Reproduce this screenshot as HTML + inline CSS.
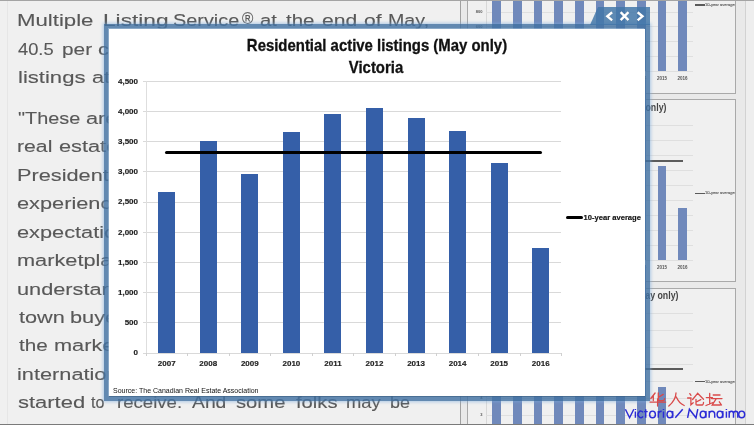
<!DOCTYPE html><html><head><meta charset="utf-8"><style>
html,body{margin:0;padding:0;width:754px;height:425px;overflow:hidden;background:#f0f0f0;font-family:"Liberation Sans", sans-serif}
.ab{position:absolute}
#wrap{position:absolute;left:0;top:0;width:754px;height:425px;overflow:hidden;filter:blur(0.45px)}
</style></head><body><div id="wrap">
<div class="ab" style="left:7.00px;top:0.00px;width:1.00px;height:425.00px;background:#e6e6e6;"></div>
<div class="ab" style="left:17.22px;top:12.07px;font-size:17.40px;line-height:17.40px;font-weight:normal;color:#585858;white-space:nowrap;letter-spacing:0.00px;transform:scaleX(1.276);transform-origin:0 0;-webkit-text-stroke:0.12px #5a5a5a">Multiple</div>
<div class="ab" style="left:102.50px;top:12.07px;font-size:17.40px;line-height:17.40px;font-weight:normal;color:#585858;white-space:nowrap;letter-spacing:0.00px;transform:scaleX(1.304);transform-origin:0 0;-webkit-text-stroke:0.12px #5a5a5a">Listing</div>
<div class="ab" style="left:172.96px;top:12.07px;font-size:17.40px;line-height:17.40px;font-weight:normal;color:#585858;white-space:nowrap;letter-spacing:0.00px;transform:scaleX(1.143);transform-origin:0 0;-webkit-text-stroke:0.12px #5a5a5a">Service</div>
<div class="ab" style="left:241.50px;top:10.47px;font-size:17.40px;line-height:17.40px;font-weight:normal;color:#585858;white-space:nowrap;letter-spacing:0.00px;transform:scaleX(0.885);transform-origin:0 0;-webkit-text-stroke:0.12px #5a5a5a">®</div>
<div class="ab" style="left:260.34px;top:12.07px;font-size:17.40px;line-height:17.40px;font-weight:normal;color:#585858;white-space:nowrap;letter-spacing:0.00px;transform:scaleX(1.164);transform-origin:0 0;-webkit-text-stroke:0.12px #5a5a5a">at</div>
<div class="ab" style="left:286.30px;top:12.07px;font-size:17.40px;line-height:17.40px;font-weight:normal;color:#585858;white-space:nowrap;letter-spacing:0.00px;transform:scaleX(1.179);transform-origin:0 0;-webkit-text-stroke:0.12px #5a5a5a">the</div>
<div class="ab" style="left:322.29px;top:12.07px;font-size:17.40px;line-height:17.40px;font-weight:normal;color:#585858;white-space:nowrap;letter-spacing:0.00px;transform:scaleX(1.215);transform-origin:0 0;-webkit-text-stroke:0.12px #5a5a5a">end</div>
<div class="ab" style="left:363.99px;top:12.07px;font-size:17.40px;line-height:17.40px;font-weight:normal;color:#585858;white-space:nowrap;letter-spacing:0.00px;transform:scaleX(1.214);transform-origin:0 0;-webkit-text-stroke:0.12px #5a5a5a">of</div>
<div class="ab" style="left:387.77px;top:12.07px;font-size:17.40px;line-height:17.40px;font-weight:normal;color:#585858;white-space:nowrap;letter-spacing:0.00px;transform:scaleX(1.129);transform-origin:0 0;-webkit-text-stroke:0.12px #5a5a5a">May,</div>
<div class="ab" style="left:18.00px;top:40.57px;font-size:17.40px;line-height:17.40px;font-weight:normal;color:#585858;white-space:nowrap;letter-spacing:0.00px;transform:scaleX(1.053);transform-origin:0 0;-webkit-text-stroke:0.12px #5a5a5a">40.5</div>
<div class="ab" style="left:62.00px;top:40.57px;font-size:17.40px;line-height:17.40px;font-weight:normal;color:#585858;white-space:nowrap;letter-spacing:0.00px;transform:scaleX(1.196);transform-origin:0 0;-webkit-text-stroke:0.12px #5a5a5a">per</div>
<div class="ab" style="left:98.15px;top:40.57px;font-size:17.40px;line-height:17.40px;font-weight:normal;color:#585858;white-space:nowrap;letter-spacing:0.00px;transform:scaleX(1.250);transform-origin:0 0;-webkit-text-stroke:0.12px #5a5a5a">cent</div>
<div class="ab" style="left:146.90px;top:40.57px;font-size:17.40px;line-height:17.40px;font-weight:normal;color:#585858;white-space:nowrap;letter-spacing:0.00px;transform:scaleX(1.250);transform-origin:0 0;-webkit-text-stroke:0.12px #5a5a5a">from</div>
<div class="ab" style="left:196.90px;top:40.57px;font-size:17.40px;line-height:17.40px;font-weight:normal;color:#585858;white-space:nowrap;letter-spacing:0.00px;transform:scaleX(1.250);transform-origin:0 0;-webkit-text-stroke:0.12px #5a5a5a">the</div>
<div class="ab" style="left:233.15px;top:40.57px;font-size:17.40px;line-height:17.40px;font-weight:normal;color:#585858;white-space:nowrap;letter-spacing:0.00px;transform:scaleX(1.250);transform-origin:0 0;-webkit-text-stroke:0.12px #5a5a5a">same</div>
<div class="ab" style="left:293.15px;top:40.57px;font-size:17.40px;line-height:17.40px;font-weight:normal;color:#585858;white-space:nowrap;letter-spacing:0.00px;transform:scaleX(1.250);transform-origin:0 0;-webkit-text-stroke:0.12px #5a5a5a">time</div>
<div class="ab" style="left:339.40px;top:40.57px;font-size:17.40px;line-height:17.40px;font-weight:normal;color:#585858;white-space:nowrap;letter-spacing:0.00px;transform:scaleX(1.250);transform-origin:0 0;-webkit-text-stroke:0.12px #5a5a5a">last</div>
<div class="ab" style="left:380.65px;top:40.57px;font-size:17.40px;line-height:17.40px;font-weight:normal;color:#585858;white-space:nowrap;letter-spacing:0.00px;transform:scaleX(1.250);transform-origin:0 0;-webkit-text-stroke:0.12px #5a5a5a">year</div>
<div class="ab" style="left:429.40px;top:40.57px;font-size:17.40px;line-height:17.40px;font-weight:normal;color:#585858;white-space:nowrap;letter-spacing:0.00px;transform:scaleX(1.250);transform-origin:0 0;-webkit-text-stroke:0.12px #5a5a5a">and</div>
<div class="ab" style="left:470.65px;top:40.57px;font-size:17.40px;line-height:17.40px;font-weight:normal;color:#585858;white-space:nowrap;letter-spacing:0.00px;transform:scaleX(1.250);transform-origin:0 0;-webkit-text-stroke:0.12px #5a5a5a">new</div>
<div class="ab" style="left:18.23px;top:69.07px;font-size:17.40px;line-height:17.40px;font-weight:normal;color:#585858;white-space:nowrap;letter-spacing:0.00px;transform:scaleX(1.269);transform-origin:0 0;-webkit-text-stroke:0.12px #5a5a5a">listings</div>
<div class="ab" style="left:91.75px;top:69.07px;font-size:17.40px;line-height:17.40px;font-weight:normal;color:#585858;white-space:nowrap;letter-spacing:0.00px;transform:scaleX(1.250);transform-origin:0 0;-webkit-text-stroke:0.12px #5a5a5a">at</div>
<div class="ab" style="left:118.00px;top:69.07px;font-size:17.40px;line-height:17.40px;font-weight:normal;color:#585858;white-space:nowrap;letter-spacing:0.00px;transform:scaleX(1.250);transform-origin:0 0;-webkit-text-stroke:0.12px #5a5a5a">the</div>
<div class="ab" style="left:154.25px;top:69.07px;font-size:17.40px;line-height:17.40px;font-weight:normal;color:#585858;white-space:nowrap;letter-spacing:0.00px;transform:scaleX(1.250);transform-origin:0 0;-webkit-text-stroke:0.12px #5a5a5a">end</div>
<div class="ab" style="left:195.50px;top:69.07px;font-size:17.40px;line-height:17.40px;font-weight:normal;color:#585858;white-space:nowrap;letter-spacing:0.00px;transform:scaleX(1.250);transform-origin:0 0;-webkit-text-stroke:0.12px #5a5a5a">of</div>
<div class="ab" style="left:220.50px;top:69.07px;font-size:17.40px;line-height:17.40px;font-weight:normal;color:#585858;white-space:nowrap;letter-spacing:0.00px;transform:scaleX(1.250);transform-origin:0 0;-webkit-text-stroke:0.12px #5a5a5a">May</div>
<div class="ab" style="left:269.25px;top:69.07px;font-size:17.40px;line-height:17.40px;font-weight:normal;color:#585858;white-space:nowrap;letter-spacing:0.00px;transform:scaleX(1.250);transform-origin:0 0;-webkit-text-stroke:0.12px #5a5a5a">were</div>
<div class="ab" style="left:17.56px;top:109.57px;font-size:17.40px;line-height:17.40px;font-weight:normal;color:#585858;white-space:nowrap;letter-spacing:0.00px;transform:scaleX(1.142);transform-origin:0 0;-webkit-text-stroke:0.12px #5a5a5a">"These</div>
<div class="ab" style="left:85.95px;top:109.57px;font-size:17.40px;line-height:17.40px;font-weight:normal;color:#585858;white-space:nowrap;letter-spacing:0.00px;transform:scaleX(1.250);transform-origin:0 0;-webkit-text-stroke:0.12px #5a5a5a">are</div>
<div class="ab" style="left:124.70px;top:109.57px;font-size:17.40px;line-height:17.40px;font-weight:normal;color:#585858;white-space:nowrap;letter-spacing:0.00px;transform:scaleX(1.250);transform-origin:0 0;-webkit-text-stroke:0.12px #5a5a5a">tough</div>
<div class="ab" style="left:185.95px;top:109.57px;font-size:17.40px;line-height:17.40px;font-weight:normal;color:#585858;white-space:nowrap;letter-spacing:0.00px;transform:scaleX(1.250);transform-origin:0 0;-webkit-text-stroke:0.12px #5a5a5a">times</div>
<div class="ab" style="left:244.70px;top:109.57px;font-size:17.40px;line-height:17.40px;font-weight:normal;color:#585858;white-space:nowrap;letter-spacing:0.00px;transform:scaleX(1.250);transform-origin:0 0;-webkit-text-stroke:0.12px #5a5a5a">for</div>
<div class="ab" style="left:17.48px;top:138.06px;font-size:17.40px;line-height:17.40px;font-weight:normal;color:#585858;white-space:nowrap;letter-spacing:0.00px;transform:scaleX(1.219);transform-origin:0 0;-webkit-text-stroke:0.12px #5a5a5a">real</div>
<div class="ab" style="left:59.15px;top:138.06px;font-size:17.40px;line-height:17.40px;font-weight:normal;color:#585858;white-space:nowrap;letter-spacing:0.00px;transform:scaleX(1.250);transform-origin:0 0;-webkit-text-stroke:0.12px #5a5a5a">estate</div>
<div class="ab" style="left:124.15px;top:138.06px;font-size:17.40px;line-height:17.40px;font-weight:normal;color:#585858;white-space:nowrap;letter-spacing:0.00px;transform:scaleX(1.250);transform-origin:0 0;-webkit-text-stroke:0.12px #5a5a5a">agents</div>
<div class="ab" style="left:17.45px;top:166.55px;font-size:17.40px;line-height:17.40px;font-weight:normal;color:#585858;white-space:nowrap;letter-spacing:0.00px;transform:scaleX(1.250);transform-origin:0 0;-webkit-text-stroke:0.12px #5a5a5a">President</div>
<div class="ab" style="left:116.20px;top:166.55px;font-size:17.40px;line-height:17.40px;font-weight:normal;color:#585858;white-space:nowrap;letter-spacing:0.00px;transform:scaleX(1.250);transform-origin:0 0;-webkit-text-stroke:0.12px #5a5a5a">of</div>
<div class="ab" style="left:17.45px;top:195.04px;font-size:17.40px;line-height:17.40px;font-weight:normal;color:#585858;white-space:nowrap;letter-spacing:0.00px;transform:scaleX(1.250);transform-origin:0 0;-webkit-text-stroke:0.12px #5a5a5a">experiencing</div>
<div class="ab" style="left:17.45px;top:223.53px;font-size:17.40px;line-height:17.40px;font-weight:normal;color:#585858;white-space:nowrap;letter-spacing:0.00px;transform:scaleX(1.250);transform-origin:0 0;-webkit-text-stroke:0.12px #5a5a5a">expectations</div>
<div class="ab" style="left:17.45px;top:252.02px;font-size:17.40px;line-height:17.40px;font-weight:normal;color:#585858;white-space:nowrap;letter-spacing:0.00px;transform:scaleX(1.250);transform-origin:0 0;-webkit-text-stroke:0.12px #5a5a5a">marketplace</div>
<div class="ab" style="left:17.45px;top:280.51px;font-size:17.40px;line-height:17.40px;font-weight:normal;color:#585858;white-space:nowrap;letter-spacing:0.00px;transform:scaleX(1.250);transform-origin:0 0;-webkit-text-stroke:0.12px #5a5a5a">understand</div>
<div class="ab" style="left:18.70px;top:309.00px;font-size:17.40px;line-height:17.40px;font-weight:normal;color:#585858;white-space:nowrap;letter-spacing:0.00px;transform:scaleX(1.247);transform-origin:0 0;-webkit-text-stroke:0.12px #5a5a5a">town</div>
<div class="ab" style="left:70.45px;top:309.00px;font-size:17.40px;line-height:17.40px;font-weight:normal;color:#585858;white-space:nowrap;letter-spacing:0.00px;transform:scaleX(1.250);transform-origin:0 0;-webkit-text-stroke:0.12px #5a5a5a">buyers</div>
<div class="ab" style="left:18.90px;top:337.49px;font-size:17.40px;line-height:17.40px;font-weight:normal;color:#585858;white-space:nowrap;letter-spacing:0.00px;transform:scaleX(1.188);transform-origin:0 0;-webkit-text-stroke:0.12px #5a5a5a">the</div>
<div class="ab" style="left:54.25px;top:337.49px;font-size:17.40px;line-height:17.40px;font-weight:normal;color:#585858;white-space:nowrap;letter-spacing:0.00px;transform:scaleX(1.250);transform-origin:0 0;-webkit-text-stroke:0.12px #5a5a5a">market</div>
<div class="ab" style="left:17.45px;top:365.98px;font-size:17.40px;line-height:17.40px;font-weight:normal;color:#585858;white-space:nowrap;letter-spacing:0.00px;transform:scaleX(1.250);transform-origin:0 0;-webkit-text-stroke:0.12px #5a5a5a">international</div>
<div class="ab" style="left:17.64px;top:394.47px;font-size:17.40px;line-height:17.40px;font-weight:normal;color:#585858;white-space:nowrap;letter-spacing:0.00px;transform:scaleX(1.263);transform-origin:0 0;-webkit-text-stroke:0.12px #5a5a5a">started</div>
<div class="ab" style="left:91.30px;top:394.47px;font-size:17.40px;line-height:17.40px;font-weight:normal;color:#585858;white-space:nowrap;letter-spacing:0.00px;transform:scaleX(0.921);transform-origin:0 0;-webkit-text-stroke:0.12px #5a5a5a">to</div>
<div class="ab" style="left:116.63px;top:394.47px;font-size:17.40px;line-height:17.40px;font-weight:normal;color:#585858;white-space:nowrap;letter-spacing:0.00px;transform:scaleX(1.069);transform-origin:0 0;-webkit-text-stroke:0.12px #5a5a5a">receive.</div>
<div class="ab" style="left:191.50px;top:394.47px;font-size:17.40px;line-height:17.40px;font-weight:normal;color:#585858;white-space:nowrap;letter-spacing:0.00px;transform:scaleX(1.110);transform-origin:0 0;-webkit-text-stroke:0.12px #5a5a5a">And</div>
<div class="ab" style="left:235.84px;top:394.47px;font-size:17.40px;line-height:17.40px;font-weight:normal;color:#585858;white-space:nowrap;letter-spacing:0.00px;transform:scaleX(1.163);transform-origin:0 0;-webkit-text-stroke:0.12px #5a5a5a">some</div>
<div class="ab" style="left:295.50px;top:394.47px;font-size:17.40px;line-height:17.40px;font-weight:normal;color:#585858;white-space:nowrap;letter-spacing:0.00px;transform:scaleX(1.163);transform-origin:0 0;-webkit-text-stroke:0.12px #5a5a5a">folks</div>
<div class="ab" style="left:345.94px;top:394.47px;font-size:17.40px;line-height:17.40px;font-weight:normal;color:#585858;white-space:nowrap;letter-spacing:0.00px;transform:scaleX(1.056);transform-origin:0 0;-webkit-text-stroke:0.12px #5a5a5a">may</div>
<div class="ab" style="left:390.47px;top:394.47px;font-size:17.40px;line-height:17.40px;font-weight:normal;color:#585858;white-space:nowrap;letter-spacing:0.00px;transform:scaleX(1.033);transform-origin:0 0;-webkit-text-stroke:0.12px #5a5a5a">be</div>
<div class="ab" style="left:17.45px;top:422.96px;font-size:17.40px;line-height:17.40px;font-weight:normal;color:#585858;white-space:nowrap;letter-spacing:0.00px;transform:scaleX(1.250);transform-origin:0 0;-webkit-text-stroke:0.12px #5a5a5a">looking</div>
<div class="ab" style="left:92.45px;top:422.96px;font-size:17.40px;line-height:17.40px;font-weight:normal;color:#585858;white-space:nowrap;letter-spacing:0.00px;transform:scaleX(1.250);transform-origin:0 0;-webkit-text-stroke:0.12px #5a5a5a">to</div>
<div class="ab" style="left:116.20px;top:422.96px;font-size:17.40px;line-height:17.40px;font-weight:normal;color:#585858;white-space:nowrap;letter-spacing:0.00px;transform:scaleX(1.250);transform-origin:0 0;-webkit-text-stroke:0.12px #5a5a5a">relocate</div>
<div class="ab" style="left:198.70px;top:422.96px;font-size:17.40px;line-height:17.40px;font-weight:normal;color:#585858;white-space:nowrap;letter-spacing:0.00px;transform:scaleX(1.250);transform-origin:0 0;-webkit-text-stroke:0.12px #5a5a5a">here</div>
<div class="ab" style="left:247.45px;top:422.96px;font-size:17.40px;line-height:17.40px;font-weight:normal;color:#585858;white-space:nowrap;letter-spacing:0.00px;transform:scaleX(1.250);transform-origin:0 0;-webkit-text-stroke:0.12px #5a5a5a">and</div>
<div class="ab" style="left:460px;top:0;width:286px;height:425px;background:#e9e9e9;border-left:1px solid #a0a0a0;border-right:1px solid #d2d2d2;box-sizing:border-box"></div>
<div class="ab" style="left:746.00px;top:0.00px;width:8.00px;height:425.00px;background:#eeeeee;"></div>
<div class="ab" style="left:467px;top:-89.0px;width:269px;height:183px;background:#f0f0f0;border:1px solid #a9a9a9;box-sizing:border-box"></div>
<div class="ab" style="left:486.00px;top:-62.40px;width:1.00px;height:133.20px;background:#d8d8d8;"></div>
<div class="ab" style="left:486.00px;top:-62.40px;width:207.00px;height:1.00px;background:#dfdfdf;"></div>
<div class="ab" style="right:271.50px;top:-64.19px;font-size:4.00px;line-height:4.00px;font-weight:bold;color:#555;white-space:nowrap;letter-spacing:0.00px;transform:scaleX(1.000);transform-origin:100% 0;">1,800</div>
<div class="ab" style="left:486.00px;top:-47.60px;width:207.00px;height:1.00px;background:#dfdfdf;"></div>
<div class="ab" style="right:271.50px;top:-49.39px;font-size:4.00px;line-height:4.00px;font-weight:bold;color:#555;white-space:nowrap;letter-spacing:0.00px;transform:scaleX(1.000);transform-origin:100% 0;">1,600</div>
<div class="ab" style="left:486.00px;top:-32.80px;width:207.00px;height:1.00px;background:#dfdfdf;"></div>
<div class="ab" style="right:271.50px;top:-34.59px;font-size:4.00px;line-height:4.00px;font-weight:bold;color:#555;white-space:nowrap;letter-spacing:0.00px;transform:scaleX(1.000);transform-origin:100% 0;">1,400</div>
<div class="ab" style="left:486.00px;top:-18.00px;width:207.00px;height:1.00px;background:#dfdfdf;"></div>
<div class="ab" style="right:271.50px;top:-19.79px;font-size:4.00px;line-height:4.00px;font-weight:bold;color:#555;white-space:nowrap;letter-spacing:0.00px;transform:scaleX(1.000);transform-origin:100% 0;">1,200</div>
<div class="ab" style="left:486.00px;top:-3.20px;width:207.00px;height:1.00px;background:#dfdfdf;"></div>
<div class="ab" style="right:271.50px;top:-4.99px;font-size:4.00px;line-height:4.00px;font-weight:bold;color:#555;white-space:nowrap;letter-spacing:0.00px;transform:scaleX(1.000);transform-origin:100% 0;">1,000</div>
<div class="ab" style="left:486.00px;top:11.60px;width:207.00px;height:1.00px;background:#dfdfdf;"></div>
<div class="ab" style="right:271.50px;top:9.81px;font-size:4.00px;line-height:4.00px;font-weight:bold;color:#555;white-space:nowrap;letter-spacing:0.00px;transform:scaleX(1.000);transform-origin:100% 0;">800</div>
<div class="ab" style="left:486.00px;top:26.40px;width:207.00px;height:1.00px;background:#dfdfdf;"></div>
<div class="ab" style="right:271.50px;top:24.61px;font-size:4.00px;line-height:4.00px;font-weight:bold;color:#555;white-space:nowrap;letter-spacing:0.00px;transform:scaleX(1.000);transform-origin:100% 0;">600</div>
<div class="ab" style="left:486.00px;top:41.20px;width:207.00px;height:1.00px;background:#dfdfdf;"></div>
<div class="ab" style="right:271.50px;top:39.41px;font-size:4.00px;line-height:4.00px;font-weight:bold;color:#555;white-space:nowrap;letter-spacing:0.00px;transform:scaleX(1.000);transform-origin:100% 0;">400</div>
<div class="ab" style="left:486.00px;top:56.00px;width:207.00px;height:1.00px;background:#dfdfdf;"></div>
<div class="ab" style="right:271.50px;top:54.21px;font-size:4.00px;line-height:4.00px;font-weight:bold;color:#555;white-space:nowrap;letter-spacing:0.00px;transform:scaleX(1.000);transform-origin:100% 0;">200</div>
<div class="ab" style="left:486.00px;top:70.80px;width:207.00px;height:1.00px;background:#dfdfdf;"></div>
<div class="ab" style="right:271.50px;top:69.01px;font-size:4.00px;line-height:4.00px;font-weight:bold;color:#555;white-space:nowrap;letter-spacing:0.00px;transform:scaleX(1.000);transform-origin:100% 0;">0</div>
<div class="ab" style="left:492.40px;top:-129.20px;width:8.50px;height:200.00px;background:#7089bb;"></div>
<div class="ab" style="left:513.06px;top:-129.20px;width:8.50px;height:200.00px;background:#7089bb;"></div>
<div class="ab" style="left:533.72px;top:-129.20px;width:8.50px;height:200.00px;background:#7089bb;"></div>
<div class="ab" style="left:554.38px;top:-129.20px;width:8.50px;height:200.00px;background:#7089bb;"></div>
<div class="ab" style="left:575.04px;top:-129.20px;width:8.50px;height:200.00px;background:#7089bb;"></div>
<div class="ab" style="left:595.70px;top:-129.20px;width:8.50px;height:200.00px;background:#7089bb;"></div>
<div class="ab" style="left:616.36px;top:-129.20px;width:8.50px;height:200.00px;background:#7089bb;"></div>
<div class="ab" style="left:637.02px;top:-129.20px;width:8.50px;height:200.00px;background:#7089bb;"></div>
<div class="ab" style="left:657.68px;top:-129.20px;width:8.50px;height:200.00px;background:#7089bb;"></div>
<div class="ab" style="left:678.34px;top:-129.20px;width:8.50px;height:200.00px;background:#7089bb;"></div>
<div class="ab" style="left:496.00px;top:-30.00px;width:187.00px;height:2.00px;background:#5c5c5c;"></div>
<div class="ab" style="left:695.00px;top:4.30px;width:10.00px;height:1.60px;background:#5a5a5a;"></div>
<div class="ab" style="left:705.00px;top:3.16px;font-size:4.30px;line-height:4.30px;font-weight:normal;color:#555;white-space:nowrap;letter-spacing:0.00px;transform:scaleX(0.950);transform-origin:0 0;-webkit-text-stroke:0.1px #555">10-year average</div>
<div class="ab" style="left:496.65px;top:76.59px;font-size:4.50px;line-height:4.50px;font-weight:bold;color:#555;white-space:nowrap;letter-spacing:0.00px;transform:translateX(-50%);"><span style="display:inline-block;transform:scaleX(1.000)">2007</span></div>
<div class="ab" style="left:517.31px;top:76.59px;font-size:4.50px;line-height:4.50px;font-weight:bold;color:#555;white-space:nowrap;letter-spacing:0.00px;transform:translateX(-50%);"><span style="display:inline-block;transform:scaleX(1.000)">2008</span></div>
<div class="ab" style="left:537.97px;top:76.59px;font-size:4.50px;line-height:4.50px;font-weight:bold;color:#555;white-space:nowrap;letter-spacing:0.00px;transform:translateX(-50%);"><span style="display:inline-block;transform:scaleX(1.000)">2009</span></div>
<div class="ab" style="left:558.63px;top:76.59px;font-size:4.50px;line-height:4.50px;font-weight:bold;color:#555;white-space:nowrap;letter-spacing:0.00px;transform:translateX(-50%);"><span style="display:inline-block;transform:scaleX(1.000)">2010</span></div>
<div class="ab" style="left:579.29px;top:76.59px;font-size:4.50px;line-height:4.50px;font-weight:bold;color:#555;white-space:nowrap;letter-spacing:0.00px;transform:translateX(-50%);"><span style="display:inline-block;transform:scaleX(1.000)">2011</span></div>
<div class="ab" style="left:599.95px;top:76.59px;font-size:4.50px;line-height:4.50px;font-weight:bold;color:#555;white-space:nowrap;letter-spacing:0.00px;transform:translateX(-50%);"><span style="display:inline-block;transform:scaleX(1.000)">2012</span></div>
<div class="ab" style="left:620.61px;top:76.59px;font-size:4.50px;line-height:4.50px;font-weight:bold;color:#555;white-space:nowrap;letter-spacing:0.00px;transform:translateX(-50%);"><span style="display:inline-block;transform:scaleX(1.000)">2013</span></div>
<div class="ab" style="left:641.27px;top:76.59px;font-size:4.50px;line-height:4.50px;font-weight:bold;color:#555;white-space:nowrap;letter-spacing:0.00px;transform:translateX(-50%);"><span style="display:inline-block;transform:scaleX(1.000)">2014</span></div>
<div class="ab" style="left:661.93px;top:76.59px;font-size:4.50px;line-height:4.50px;font-weight:bold;color:#555;white-space:nowrap;letter-spacing:0.00px;transform:translateX(-50%);"><span style="display:inline-block;transform:scaleX(1.000)">2015</span></div>
<div class="ab" style="left:682.59px;top:76.59px;font-size:4.50px;line-height:4.50px;font-weight:bold;color:#555;white-space:nowrap;letter-spacing:0.00px;transform:translateX(-50%);"><span style="display:inline-block;transform:scaleX(1.000)">2016</span></div>
<div class="ab" style="left:467px;top:99.3px;width:269px;height:183px;background:#f0f0f0;border:1px solid #a9a9a9;box-sizing:border-box"></div>
<div class="ab" style="left:486.00px;top:125.00px;width:1.00px;height:135.00px;background:#d8d8d8;"></div>
<div class="ab" style="left:486.00px;top:125.00px;width:207.00px;height:1.00px;background:#dfdfdf;"></div>
<div class="ab" style="right:271.50px;top:123.21px;font-size:4.00px;line-height:4.00px;font-weight:bold;color:#555;white-space:nowrap;letter-spacing:0.00px;transform:scaleX(1.000);transform-origin:100% 0;">4,500</div>
<div class="ab" style="left:486.00px;top:140.00px;width:207.00px;height:1.00px;background:#dfdfdf;"></div>
<div class="ab" style="right:271.50px;top:138.21px;font-size:4.00px;line-height:4.00px;font-weight:bold;color:#555;white-space:nowrap;letter-spacing:0.00px;transform:scaleX(1.000);transform-origin:100% 0;">4,000</div>
<div class="ab" style="left:486.00px;top:155.00px;width:207.00px;height:1.00px;background:#dfdfdf;"></div>
<div class="ab" style="right:271.50px;top:153.21px;font-size:4.00px;line-height:4.00px;font-weight:bold;color:#555;white-space:nowrap;letter-spacing:0.00px;transform:scaleX(1.000);transform-origin:100% 0;">3,500</div>
<div class="ab" style="left:486.00px;top:170.00px;width:207.00px;height:1.00px;background:#dfdfdf;"></div>
<div class="ab" style="right:271.50px;top:168.21px;font-size:4.00px;line-height:4.00px;font-weight:bold;color:#555;white-space:nowrap;letter-spacing:0.00px;transform:scaleX(1.000);transform-origin:100% 0;">3,000</div>
<div class="ab" style="left:486.00px;top:185.00px;width:207.00px;height:1.00px;background:#dfdfdf;"></div>
<div class="ab" style="right:271.50px;top:183.21px;font-size:4.00px;line-height:4.00px;font-weight:bold;color:#555;white-space:nowrap;letter-spacing:0.00px;transform:scaleX(1.000);transform-origin:100% 0;">2,500</div>
<div class="ab" style="left:486.00px;top:200.00px;width:207.00px;height:1.00px;background:#dfdfdf;"></div>
<div class="ab" style="right:271.50px;top:198.21px;font-size:4.00px;line-height:4.00px;font-weight:bold;color:#555;white-space:nowrap;letter-spacing:0.00px;transform:scaleX(1.000);transform-origin:100% 0;">2,000</div>
<div class="ab" style="left:486.00px;top:215.00px;width:207.00px;height:1.00px;background:#dfdfdf;"></div>
<div class="ab" style="right:271.50px;top:213.21px;font-size:4.00px;line-height:4.00px;font-weight:bold;color:#555;white-space:nowrap;letter-spacing:0.00px;transform:scaleX(1.000);transform-origin:100% 0;">1,500</div>
<div class="ab" style="left:486.00px;top:230.00px;width:207.00px;height:1.00px;background:#dfdfdf;"></div>
<div class="ab" style="right:271.50px;top:228.21px;font-size:4.00px;line-height:4.00px;font-weight:bold;color:#555;white-space:nowrap;letter-spacing:0.00px;transform:scaleX(1.000);transform-origin:100% 0;">1,000</div>
<div class="ab" style="left:486.00px;top:245.00px;width:207.00px;height:1.00px;background:#dfdfdf;"></div>
<div class="ab" style="right:271.50px;top:243.21px;font-size:4.00px;line-height:4.00px;font-weight:bold;color:#555;white-space:nowrap;letter-spacing:0.00px;transform:scaleX(1.000);transform-origin:100% 0;">500</div>
<div class="ab" style="left:486.00px;top:260.00px;width:207.00px;height:1.00px;background:#dfdfdf;"></div>
<div class="ab" style="right:271.50px;top:258.21px;font-size:4.00px;line-height:4.00px;font-weight:bold;color:#555;white-space:nowrap;letter-spacing:0.00px;transform:scaleX(1.000);transform-origin:100% 0;">0</div>
<div class="ab" style="left:492.40px;top:110.00px;width:8.50px;height:150.00px;background:#7089bb;"></div>
<div class="ab" style="left:513.06px;top:90.00px;width:8.50px;height:170.00px;background:#7089bb;"></div>
<div class="ab" style="left:533.72px;top:110.00px;width:8.50px;height:150.00px;background:#7089bb;"></div>
<div class="ab" style="left:554.38px;top:80.00px;width:8.50px;height:180.00px;background:#7089bb;"></div>
<div class="ab" style="left:575.04px;top:70.00px;width:8.50px;height:190.00px;background:#7089bb;"></div>
<div class="ab" style="left:595.70px;top:65.00px;width:8.50px;height:195.00px;background:#7089bb;"></div>
<div class="ab" style="left:616.36px;top:70.00px;width:8.50px;height:190.00px;background:#7089bb;"></div>
<div class="ab" style="left:637.02px;top:80.00px;width:8.50px;height:180.00px;background:#7089bb;"></div>
<div class="ab" style="left:657.68px;top:166.00px;width:8.50px;height:94.00px;background:#7089bb;"></div>
<div class="ab" style="left:678.34px;top:208.00px;width:8.50px;height:52.00px;background:#7089bb;"></div>
<div class="ab" style="left:496.00px;top:159.60px;width:187.00px;height:2.00px;background:#5c5c5c;"></div>
<div class="ab" style="left:695.00px;top:192.60px;width:10.00px;height:1.60px;background:#5a5a5a;"></div>
<div class="ab" style="left:705.00px;top:191.46px;font-size:4.30px;line-height:4.30px;font-weight:normal;color:#555;white-space:nowrap;letter-spacing:0.00px;transform:scaleX(0.950);transform-origin:0 0;-webkit-text-stroke:0.1px #555">10-year average</div>
<div class="ab" style="left:496.65px;top:265.79px;font-size:4.50px;line-height:4.50px;font-weight:bold;color:#555;white-space:nowrap;letter-spacing:0.00px;transform:translateX(-50%);"><span style="display:inline-block;transform:scaleX(1.000)">2007</span></div>
<div class="ab" style="left:517.31px;top:265.79px;font-size:4.50px;line-height:4.50px;font-weight:bold;color:#555;white-space:nowrap;letter-spacing:0.00px;transform:translateX(-50%);"><span style="display:inline-block;transform:scaleX(1.000)">2008</span></div>
<div class="ab" style="left:537.97px;top:265.79px;font-size:4.50px;line-height:4.50px;font-weight:bold;color:#555;white-space:nowrap;letter-spacing:0.00px;transform:translateX(-50%);"><span style="display:inline-block;transform:scaleX(1.000)">2009</span></div>
<div class="ab" style="left:558.63px;top:265.79px;font-size:4.50px;line-height:4.50px;font-weight:bold;color:#555;white-space:nowrap;letter-spacing:0.00px;transform:translateX(-50%);"><span style="display:inline-block;transform:scaleX(1.000)">2010</span></div>
<div class="ab" style="left:579.29px;top:265.79px;font-size:4.50px;line-height:4.50px;font-weight:bold;color:#555;white-space:nowrap;letter-spacing:0.00px;transform:translateX(-50%);"><span style="display:inline-block;transform:scaleX(1.000)">2011</span></div>
<div class="ab" style="left:599.95px;top:265.79px;font-size:4.50px;line-height:4.50px;font-weight:bold;color:#555;white-space:nowrap;letter-spacing:0.00px;transform:translateX(-50%);"><span style="display:inline-block;transform:scaleX(1.000)">2012</span></div>
<div class="ab" style="left:620.61px;top:265.79px;font-size:4.50px;line-height:4.50px;font-weight:bold;color:#555;white-space:nowrap;letter-spacing:0.00px;transform:translateX(-50%);"><span style="display:inline-block;transform:scaleX(1.000)">2013</span></div>
<div class="ab" style="left:641.27px;top:265.79px;font-size:4.50px;line-height:4.50px;font-weight:bold;color:#555;white-space:nowrap;letter-spacing:0.00px;transform:translateX(-50%);"><span style="display:inline-block;transform:scaleX(1.000)">2014</span></div>
<div class="ab" style="left:661.93px;top:265.79px;font-size:4.50px;line-height:4.50px;font-weight:bold;color:#555;white-space:nowrap;letter-spacing:0.00px;transform:translateX(-50%);"><span style="display:inline-block;transform:scaleX(1.000)">2015</span></div>
<div class="ab" style="left:682.59px;top:265.79px;font-size:4.50px;line-height:4.50px;font-weight:bold;color:#555;white-space:nowrap;letter-spacing:0.00px;transform:translateX(-50%);"><span style="display:inline-block;transform:scaleX(1.000)">2016</span></div>
<div class="ab" style="right:88.00px;top:102.83px;font-size:10.00px;line-height:10.00px;font-weight:bold;color:#444;white-space:nowrap;letter-spacing:0.00px;transform:scaleX(0.880);transform-origin:100% 0;">Residential active listings (May only)</div>
<div class="ab" style="left:467px;top:287.6px;width:269px;height:183px;background:#f0f0f0;border:1px solid #a9a9a9;box-sizing:border-box"></div>
<div class="ab" style="left:486.00px;top:313.30px;width:1.00px;height:152.10px;background:#d8d8d8;"></div>
<div class="ab" style="left:486.00px;top:313.30px;width:207.00px;height:1.00px;background:#dfdfdf;"></div>
<div class="ab" style="right:271.50px;top:311.51px;font-size:4.00px;line-height:4.00px;font-weight:bold;color:#555;white-space:nowrap;letter-spacing:0.00px;transform:scaleX(1.000);transform-origin:100% 0;">9</div>
<div class="ab" style="left:486.00px;top:330.20px;width:207.00px;height:1.00px;background:#dfdfdf;"></div>
<div class="ab" style="right:271.50px;top:328.41px;font-size:4.00px;line-height:4.00px;font-weight:bold;color:#555;white-space:nowrap;letter-spacing:0.00px;transform:scaleX(1.000);transform-origin:100% 0;">8</div>
<div class="ab" style="left:486.00px;top:347.10px;width:207.00px;height:1.00px;background:#dfdfdf;"></div>
<div class="ab" style="right:271.50px;top:345.31px;font-size:4.00px;line-height:4.00px;font-weight:bold;color:#555;white-space:nowrap;letter-spacing:0.00px;transform:scaleX(1.000);transform-origin:100% 0;">7</div>
<div class="ab" style="left:486.00px;top:364.00px;width:207.00px;height:1.00px;background:#dfdfdf;"></div>
<div class="ab" style="right:271.50px;top:362.21px;font-size:4.00px;line-height:4.00px;font-weight:bold;color:#555;white-space:nowrap;letter-spacing:0.00px;transform:scaleX(1.000);transform-origin:100% 0;">6</div>
<div class="ab" style="left:486.00px;top:380.90px;width:207.00px;height:1.00px;background:#dfdfdf;"></div>
<div class="ab" style="right:271.50px;top:379.11px;font-size:4.00px;line-height:4.00px;font-weight:bold;color:#555;white-space:nowrap;letter-spacing:0.00px;transform:scaleX(1.000);transform-origin:100% 0;">5</div>
<div class="ab" style="left:486.00px;top:397.80px;width:207.00px;height:1.00px;background:#dfdfdf;"></div>
<div class="ab" style="right:271.50px;top:396.01px;font-size:4.00px;line-height:4.00px;font-weight:bold;color:#555;white-space:nowrap;letter-spacing:0.00px;transform:scaleX(1.000);transform-origin:100% 0;">4</div>
<div class="ab" style="left:486.00px;top:414.70px;width:207.00px;height:1.00px;background:#dfdfdf;"></div>
<div class="ab" style="right:271.50px;top:412.91px;font-size:4.00px;line-height:4.00px;font-weight:bold;color:#555;white-space:nowrap;letter-spacing:0.00px;transform:scaleX(1.000);transform-origin:100% 0;">3</div>
<div class="ab" style="left:486.00px;top:431.60px;width:207.00px;height:1.00px;background:#dfdfdf;"></div>
<div class="ab" style="right:271.50px;top:429.81px;font-size:4.00px;line-height:4.00px;font-weight:bold;color:#555;white-space:nowrap;letter-spacing:0.00px;transform:scaleX(1.000);transform-origin:100% 0;">2</div>
<div class="ab" style="left:486.00px;top:448.50px;width:207.00px;height:1.00px;background:#dfdfdf;"></div>
<div class="ab" style="right:271.50px;top:446.71px;font-size:4.00px;line-height:4.00px;font-weight:bold;color:#555;white-space:nowrap;letter-spacing:0.00px;transform:scaleX(1.000);transform-origin:100% 0;">1</div>
<div class="ab" style="left:486.00px;top:465.40px;width:207.00px;height:1.00px;background:#dfdfdf;"></div>
<div class="ab" style="right:271.50px;top:463.61px;font-size:4.00px;line-height:4.00px;font-weight:bold;color:#555;white-space:nowrap;letter-spacing:0.00px;transform:scaleX(1.000);transform-origin:100% 0;">0</div>
<div class="ab" style="left:492.40px;top:265.40px;width:8.50px;height:200.00px;background:#7089bb;"></div>
<div class="ab" style="left:513.06px;top:265.40px;width:8.50px;height:200.00px;background:#7089bb;"></div>
<div class="ab" style="left:533.72px;top:265.40px;width:8.50px;height:200.00px;background:#7089bb;"></div>
<div class="ab" style="left:554.38px;top:265.40px;width:8.50px;height:200.00px;background:#7089bb;"></div>
<div class="ab" style="left:575.04px;top:265.40px;width:8.50px;height:200.00px;background:#7089bb;"></div>
<div class="ab" style="left:595.70px;top:265.40px;width:8.50px;height:200.00px;background:#7089bb;"></div>
<div class="ab" style="left:616.36px;top:265.40px;width:8.50px;height:200.00px;background:#7089bb;"></div>
<div class="ab" style="left:637.02px;top:265.40px;width:8.50px;height:200.00px;background:#7089bb;"></div>
<div class="ab" style="left:657.68px;top:387.40px;width:8.50px;height:78.00px;background:#7089bb;"></div>
<div class="ab" style="left:678.34px;top:427.40px;width:8.50px;height:38.00px;background:#7089bb;"></div>
<div class="ab" style="left:496.00px;top:367.60px;width:187.00px;height:2.00px;background:#5c5c5c;"></div>
<div class="ab" style="left:695.00px;top:380.90px;width:10.00px;height:1.60px;background:#5a5a5a;"></div>
<div class="ab" style="left:705.00px;top:379.76px;font-size:4.30px;line-height:4.30px;font-weight:normal;color:#555;white-space:nowrap;letter-spacing:0.00px;transform:scaleX(0.950);transform-origin:0 0;-webkit-text-stroke:0.1px #555">10-year average</div>
<div class="ab" style="left:496.65px;top:471.19px;font-size:4.50px;line-height:4.50px;font-weight:bold;color:#555;white-space:nowrap;letter-spacing:0.00px;transform:translateX(-50%);"><span style="display:inline-block;transform:scaleX(1.000)">2007</span></div>
<div class="ab" style="left:517.31px;top:471.19px;font-size:4.50px;line-height:4.50px;font-weight:bold;color:#555;white-space:nowrap;letter-spacing:0.00px;transform:translateX(-50%);"><span style="display:inline-block;transform:scaleX(1.000)">2008</span></div>
<div class="ab" style="left:537.97px;top:471.19px;font-size:4.50px;line-height:4.50px;font-weight:bold;color:#555;white-space:nowrap;letter-spacing:0.00px;transform:translateX(-50%);"><span style="display:inline-block;transform:scaleX(1.000)">2009</span></div>
<div class="ab" style="left:558.63px;top:471.19px;font-size:4.50px;line-height:4.50px;font-weight:bold;color:#555;white-space:nowrap;letter-spacing:0.00px;transform:translateX(-50%);"><span style="display:inline-block;transform:scaleX(1.000)">2010</span></div>
<div class="ab" style="left:579.29px;top:471.19px;font-size:4.50px;line-height:4.50px;font-weight:bold;color:#555;white-space:nowrap;letter-spacing:0.00px;transform:translateX(-50%);"><span style="display:inline-block;transform:scaleX(1.000)">2011</span></div>
<div class="ab" style="left:599.95px;top:471.19px;font-size:4.50px;line-height:4.50px;font-weight:bold;color:#555;white-space:nowrap;letter-spacing:0.00px;transform:translateX(-50%);"><span style="display:inline-block;transform:scaleX(1.000)">2012</span></div>
<div class="ab" style="left:620.61px;top:471.19px;font-size:4.50px;line-height:4.50px;font-weight:bold;color:#555;white-space:nowrap;letter-spacing:0.00px;transform:translateX(-50%);"><span style="display:inline-block;transform:scaleX(1.000)">2013</span></div>
<div class="ab" style="left:641.27px;top:471.19px;font-size:4.50px;line-height:4.50px;font-weight:bold;color:#555;white-space:nowrap;letter-spacing:0.00px;transform:translateX(-50%);"><span style="display:inline-block;transform:scaleX(1.000)">2014</span></div>
<div class="ab" style="left:661.93px;top:471.19px;font-size:4.50px;line-height:4.50px;font-weight:bold;color:#555;white-space:nowrap;letter-spacing:0.00px;transform:translateX(-50%);"><span style="display:inline-block;transform:scaleX(1.000)">2015</span></div>
<div class="ab" style="left:682.59px;top:471.19px;font-size:4.50px;line-height:4.50px;font-weight:bold;color:#555;white-space:nowrap;letter-spacing:0.00px;transform:translateX(-50%);"><span style="display:inline-block;transform:scaleX(1.000)">2016</span></div>
<div class="ab" style="right:76.00px;top:291.14px;font-size:10.00px;line-height:10.00px;font-weight:bold;color:#444;white-space:nowrap;letter-spacing:0.00px;transform:scaleX(0.880);transform-origin:100% 0;">Residential active listings (May only)</div>
<div class="ab" style="left:0.00px;top:0.00px;width:754.00px;height:1.00px;background:#a4a4a4;"></div>
<div class="ab" style="left:0.00px;top:424.00px;width:754.00px;height:1.00px;background:#7a7a7a;"></div>
<div class="ab" style="left:104px;top:24px;width:546px;height:377px;box-shadow:0 0 3px 1px rgba(120,170,220,0.55)"></div>
<div class="ab" style="left:104px;top:24px;width:546px;height:377px;border:5px solid rgba(66,114,162,0.82);box-sizing:border-box"></div>
<div class="ab" style="left:108px;top:28px;width:537px;height:369px;border:1px solid rgba(200,220,235,0.4);border-right-color:rgba(60,95,130,0.75);border-bottom-color:rgba(60,95,130,0.6);box-sizing:border-box"></div>
<svg class="ab" style="left:588px;top:6px" width="62" height="19"><path d="M10 1 H62 V19 H2 Z" fill="rgba(66,118,168,0.84)"/><g stroke="#fff" stroke-width="2.5" fill="none" style="filter:drop-shadow(0 0 0.6px rgba(0,40,80,0.6))"><path d="M24.2 6.2 L19.3 10.3 L24.2 14.4"/><path d="M32.6 6.1 L40.5 14.1 M40.5 6.1 L32.6 14.1"/><path d="M49.6 6.2 L54.5 10.3 L49.6 14.4"/></g></svg>
<div class="ab" style="left:109.00px;top:29.00px;width:536.00px;height:367.00px;background:#fff;"></div>
<div class="ab" style="left:376.50px;top:37.22px;font-size:16.40px;line-height:16.40px;font-weight:bold;color:#111;white-space:nowrap;letter-spacing:0.00px;transform:translateX(-50%);-webkit-text-stroke:0.3px #111"><span style="display:inline-block;transform:scaleX(0.910)">Residential active listings (May only)</span></div>
<div class="ab" style="left:376.20px;top:58.92px;font-size:16.40px;line-height:16.40px;font-weight:bold;color:#111;white-space:nowrap;letter-spacing:0.00px;transform:translateX(-50%);-webkit-text-stroke:0.3px #111"><span style="display:inline-block;transform:scaleX(0.910)">Victoria</span></div>
<div class="ab" style="left:143.00px;top:352.50px;width:418.00px;height:1.00px;background:#d9d9d9;"></div>
<div class="ab" style="right:616.00px;top:349.33px;font-size:8.00px;line-height:8.00px;font-weight:bold;color:#222;white-space:nowrap;letter-spacing:0.00px;transform:scaleX(1.000);transform-origin:100% 0;-webkit-text-stroke:0.15px #222">0</div>
<div class="ab" style="left:143.00px;top:322.30px;width:418.00px;height:1.00px;background:#d9d9d9;"></div>
<div class="ab" style="right:616.00px;top:319.13px;font-size:8.00px;line-height:8.00px;font-weight:bold;color:#222;white-space:nowrap;letter-spacing:0.00px;transform:scaleX(1.000);transform-origin:100% 0;-webkit-text-stroke:0.15px #222">500</div>
<div class="ab" style="left:143.00px;top:292.10px;width:418.00px;height:1.00px;background:#d9d9d9;"></div>
<div class="ab" style="right:616.00px;top:288.93px;font-size:8.00px;line-height:8.00px;font-weight:bold;color:#222;white-space:nowrap;letter-spacing:0.00px;transform:scaleX(1.000);transform-origin:100% 0;-webkit-text-stroke:0.15px #222">1,000</div>
<div class="ab" style="left:143.00px;top:261.90px;width:418.00px;height:1.00px;background:#d9d9d9;"></div>
<div class="ab" style="right:616.00px;top:258.73px;font-size:8.00px;line-height:8.00px;font-weight:bold;color:#222;white-space:nowrap;letter-spacing:0.00px;transform:scaleX(1.000);transform-origin:100% 0;-webkit-text-stroke:0.15px #222">1,500</div>
<div class="ab" style="left:143.00px;top:231.70px;width:418.00px;height:1.00px;background:#d9d9d9;"></div>
<div class="ab" style="right:616.00px;top:228.53px;font-size:8.00px;line-height:8.00px;font-weight:bold;color:#222;white-space:nowrap;letter-spacing:0.00px;transform:scaleX(1.000);transform-origin:100% 0;-webkit-text-stroke:0.15px #222">2,000</div>
<div class="ab" style="left:143.00px;top:201.50px;width:418.00px;height:1.00px;background:#d9d9d9;"></div>
<div class="ab" style="right:616.00px;top:198.33px;font-size:8.00px;line-height:8.00px;font-weight:bold;color:#222;white-space:nowrap;letter-spacing:0.00px;transform:scaleX(1.000);transform-origin:100% 0;-webkit-text-stroke:0.15px #222">2,500</div>
<div class="ab" style="left:143.00px;top:171.30px;width:418.00px;height:1.00px;background:#d9d9d9;"></div>
<div class="ab" style="right:616.00px;top:168.13px;font-size:8.00px;line-height:8.00px;font-weight:bold;color:#222;white-space:nowrap;letter-spacing:0.00px;transform:scaleX(1.000);transform-origin:100% 0;-webkit-text-stroke:0.15px #222">3,000</div>
<div class="ab" style="left:143.00px;top:141.10px;width:418.00px;height:1.00px;background:#d9d9d9;"></div>
<div class="ab" style="right:616.00px;top:137.93px;font-size:8.00px;line-height:8.00px;font-weight:bold;color:#222;white-space:nowrap;letter-spacing:0.00px;transform:scaleX(1.000);transform-origin:100% 0;-webkit-text-stroke:0.15px #222">3,500</div>
<div class="ab" style="left:143.00px;top:110.90px;width:418.00px;height:1.00px;background:#d9d9d9;"></div>
<div class="ab" style="right:616.00px;top:107.73px;font-size:8.00px;line-height:8.00px;font-weight:bold;color:#222;white-space:nowrap;letter-spacing:0.00px;transform:scaleX(1.000);transform-origin:100% 0;-webkit-text-stroke:0.15px #222">4,000</div>
<div class="ab" style="left:143.00px;top:80.70px;width:418.00px;height:1.00px;background:#d9d9d9;"></div>
<div class="ab" style="right:616.00px;top:77.53px;font-size:8.00px;line-height:8.00px;font-weight:bold;color:#222;white-space:nowrap;letter-spacing:0.00px;transform:scaleX(1.000);transform-origin:100% 0;-webkit-text-stroke:0.15px #222">4,500</div>
<div class="ab" style="left:145.50px;top:81.00px;width:1.00px;height:272.00px;background:#dedede;"></div>
<div class="ab" style="left:158.20px;top:191.80px;width:17.00px;height:161.20px;background:#355fa8;"></div>
<div class="ab" style="left:166.70px;top:360.13px;font-size:8.00px;line-height:8.00px;font-weight:bold;color:#222;white-space:nowrap;letter-spacing:0.00px;transform:translateX(-50%);-webkit-text-stroke:0.15px #222"><span style="display:inline-block;transform:scaleX(1.000)">2007</span></div>
<div class="ab" style="left:199.76px;top:140.90px;width:17.00px;height:212.10px;background:#355fa8;"></div>
<div class="ab" style="left:208.26px;top:360.13px;font-size:8.00px;line-height:8.00px;font-weight:bold;color:#222;white-space:nowrap;letter-spacing:0.00px;transform:translateX(-50%);-webkit-text-stroke:0.15px #222"><span style="display:inline-block;transform:scaleX(1.000)">2008</span></div>
<div class="ab" style="left:241.32px;top:173.80px;width:17.00px;height:179.20px;background:#355fa8;"></div>
<div class="ab" style="left:249.82px;top:360.13px;font-size:8.00px;line-height:8.00px;font-weight:bold;color:#222;white-space:nowrap;letter-spacing:0.00px;transform:translateX(-50%);-webkit-text-stroke:0.15px #222"><span style="display:inline-block;transform:scaleX(1.000)">2009</span></div>
<div class="ab" style="left:282.88px;top:131.60px;width:17.00px;height:221.40px;background:#355fa8;"></div>
<div class="ab" style="left:291.38px;top:360.13px;font-size:8.00px;line-height:8.00px;font-weight:bold;color:#222;white-space:nowrap;letter-spacing:0.00px;transform:translateX(-50%);-webkit-text-stroke:0.15px #222"><span style="display:inline-block;transform:scaleX(1.000)">2010</span></div>
<div class="ab" style="left:324.44px;top:114.40px;width:17.00px;height:238.60px;background:#355fa8;"></div>
<div class="ab" style="left:332.94px;top:360.13px;font-size:8.00px;line-height:8.00px;font-weight:bold;color:#222;white-space:nowrap;letter-spacing:0.00px;transform:translateX(-50%);-webkit-text-stroke:0.15px #222"><span style="display:inline-block;transform:scaleX(1.000)">2011</span></div>
<div class="ab" style="left:366.00px;top:107.80px;width:17.00px;height:245.20px;background:#355fa8;"></div>
<div class="ab" style="left:374.50px;top:360.13px;font-size:8.00px;line-height:8.00px;font-weight:bold;color:#222;white-space:nowrap;letter-spacing:0.00px;transform:translateX(-50%);-webkit-text-stroke:0.15px #222"><span style="display:inline-block;transform:scaleX(1.000)">2012</span></div>
<div class="ab" style="left:407.56px;top:117.50px;width:17.00px;height:235.50px;background:#355fa8;"></div>
<div class="ab" style="left:416.06px;top:360.13px;font-size:8.00px;line-height:8.00px;font-weight:bold;color:#222;white-space:nowrap;letter-spacing:0.00px;transform:translateX(-50%);-webkit-text-stroke:0.15px #222"><span style="display:inline-block;transform:scaleX(1.000)">2013</span></div>
<div class="ab" style="left:449.12px;top:130.70px;width:17.00px;height:222.30px;background:#355fa8;"></div>
<div class="ab" style="left:457.62px;top:360.13px;font-size:8.00px;line-height:8.00px;font-weight:bold;color:#222;white-space:nowrap;letter-spacing:0.00px;transform:translateX(-50%);-webkit-text-stroke:0.15px #222"><span style="display:inline-block;transform:scaleX(1.000)">2014</span></div>
<div class="ab" style="left:490.68px;top:162.90px;width:17.00px;height:190.10px;background:#355fa8;"></div>
<div class="ab" style="left:499.18px;top:360.13px;font-size:8.00px;line-height:8.00px;font-weight:bold;color:#222;white-space:nowrap;letter-spacing:0.00px;transform:translateX(-50%);-webkit-text-stroke:0.15px #222"><span style="display:inline-block;transform:scaleX(1.000)">2015</span></div>
<div class="ab" style="left:532.24px;top:248.30px;width:17.00px;height:104.70px;background:#355fa8;"></div>
<div class="ab" style="left:540.74px;top:360.13px;font-size:8.00px;line-height:8.00px;font-weight:bold;color:#222;white-space:nowrap;letter-spacing:0.00px;transform:translateX(-50%);-webkit-text-stroke:0.15px #222"><span style="display:inline-block;transform:scaleX(1.000)">2016</span></div>
<div class="ab" style="left:145.50px;top:353.00px;width:1.00px;height:3.00px;background:#d0d0d0;"></div>
<div class="ab" style="left:187.06px;top:353.00px;width:1.00px;height:3.00px;background:#d0d0d0;"></div>
<div class="ab" style="left:228.62px;top:353.00px;width:1.00px;height:3.00px;background:#d0d0d0;"></div>
<div class="ab" style="left:270.18px;top:353.00px;width:1.00px;height:3.00px;background:#d0d0d0;"></div>
<div class="ab" style="left:311.74px;top:353.00px;width:1.00px;height:3.00px;background:#d0d0d0;"></div>
<div class="ab" style="left:353.30px;top:353.00px;width:1.00px;height:3.00px;background:#d0d0d0;"></div>
<div class="ab" style="left:394.86px;top:353.00px;width:1.00px;height:3.00px;background:#d0d0d0;"></div>
<div class="ab" style="left:436.42px;top:353.00px;width:1.00px;height:3.00px;background:#d0d0d0;"></div>
<div class="ab" style="left:477.98px;top:353.00px;width:1.00px;height:3.00px;background:#d0d0d0;"></div>
<div class="ab" style="left:519.54px;top:353.00px;width:1.00px;height:3.00px;background:#d0d0d0;"></div>
<div class="ab" style="left:561.10px;top:353.00px;width:1.00px;height:3.00px;background:#d0d0d0;"></div>
<div class="ab" style="left:165.30px;top:150.50px;width:376.50px;height:3.00px;background:#000;border-radius:2px"></div>
<div class="ab" style="left:566.00px;top:216.00px;width:17.00px;height:3.00px;background:#000;border-radius:2px"></div>
<div class="ab" style="left:583.50px;top:213.77px;font-size:7.60px;line-height:7.60px;font-weight:bold;color:#111;white-space:nowrap;letter-spacing:0.00px;transform:scaleX(1.000);transform-origin:0 0;-webkit-text-stroke:0.15px #111">10-year average</div>
<div class="ab" style="left:113.30px;top:387.12px;font-size:7.30px;line-height:7.30px;font-weight:normal;color:#111;white-space:nowrap;letter-spacing:0.00px;transform:scaleX(0.960);transform-origin:0 0;">Source: The Canadian Real Estate Association</div>
<svg class="ab" style="left:620px;top:404px" width="130" height="20" viewBox="0 0 130 20"><g stroke="#2b2bd6" stroke-width="1.45" fill="none"><path d="M5.4 5.2 L9.6 13.7 L13.8 5.2"/><path d="M15.4 7.4 V13.8 M15.4 4.9 V6.1"/><path d="M23 8.4 A2.75 3.3 0 1 0 23 12.4"/><path d="M25.7 5.2 V13.8 M24 7.6 H27.7"/><ellipse cx="32.5" cy="10.4" rx="2.9" ry="3.3"/><path d="M38.3 7.1 V13.8 M38.3 9.6 Q38.8 7.3 41.7 7.3"/><path d="M43.5 7.4 V13.8 M43.5 4.9 V6.1"/><ellipse cx="49.8" cy="10.4" rx="2.8" ry="3.3"/><path d="M52.7 7.1 V13.8"/><path d="M55.3 13.8 L62.7 5.2"/><path d="M67.6 13.8 L69.4 5.2 L76 13.8 L77.8 5.2"/><ellipse cx="83" cy="10.4" rx="2.8" ry="3.3"/><path d="M85.9 7.1 V13.8"/><path d="M89.2 7.1 V13.8 M89.2 9.8 Q89.4 7.2 92 7.2 Q94.7 7.2 94.7 10 V13.8"/><ellipse cx="99.9" cy="10.4" rx="2.8" ry="3.3"/><path d="M102.8 7.1 V13.8"/><path d="M106.4 7.4 V13.8 M106.4 4.9 V6.1"/><path d="M109.2 7.1 V13.8 M109.2 9.6 Q109.4 7.2 111.4 7.2 Q113.5 7.2 113.5 9.6 V13.8 M113.5 9.6 Q113.7 7.2 115.7 7.2 Q117.8 7.2 117.8 9.6 V13.8"/><ellipse cx="121.7" cy="10.4" rx="3" ry="3.3"/></g></svg>
<svg class="ab" style="left:648px;top:390px" width="78" height="20" viewBox="0 0 78 20"><g stroke="#d94a4a" stroke-width="1.3" fill="none" stroke-linecap="round"><path d="M7.1 3 L2.8 8.5 M5.3 5.5 V10.5 M10.3 2.8 V9.6 Q10.3 10.6 11.5 10.6 H15.2 Q16.3 10.6 16.6 8.6 M10.5 7.3 L15.2 4.4 M2 12.1 H17.7 M9.6 9 V16"/><path d="M28 3 Q27.8 10 20.8 16 M28.3 7 Q30.8 13 36.2 15.5"/><path d="M41.8 3.6 L43 5.3 M39.6 8 H42.9 V14.8 L45.2 12.8 M49.6 3.3 L44.6 9.5 M49.6 3.3 L55.5 9.2 M48 9.3 V14.3 Q48 15 49 15 H54.2 Q55.3 15 55.5 12.5 M48.2 12 L52.8 9.6"/><path d="M61.7 3.5 V14 M58.3 7.6 H64.5 M58 15.5 L65 12.5 M65.2 5 H72 M63.5 8.6 H74 M68.3 8.6 L64.2 15 H72.4 M71.3 11.8 L73.5 15"/></g></svg>
</div></body></html>
